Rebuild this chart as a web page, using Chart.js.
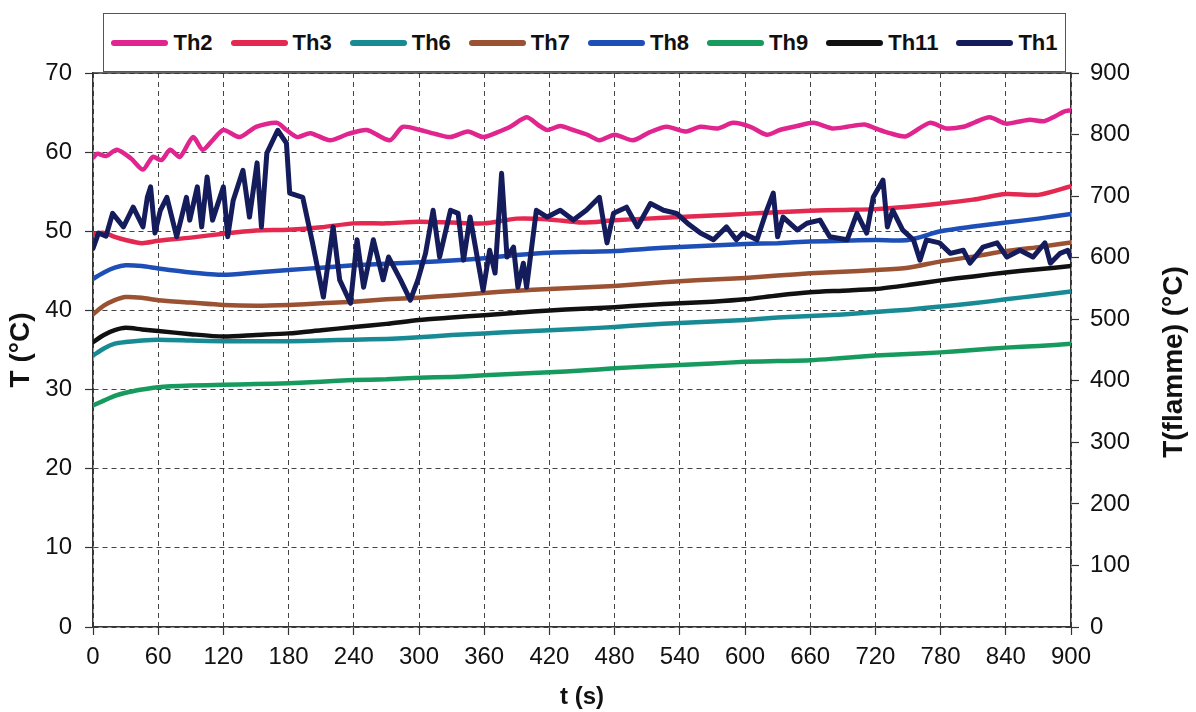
<!DOCTYPE html>
<html>
<head>
<meta charset="utf-8">
<script src="https://cdn.jsdelivr.net/npm/chart.js@4.4.1/dist/chart.umd.min.js"></script>
<style>
  html, body { margin: 0; padding: 0; background: #ffffff; }
  #wrap { position: relative; width: 1196px; height: 712px; }
  canvas { position: absolute; left: 0; top: 0; }
  #legend {
    position: absolute; left: 103px; top: 13px; width: 961px; height: 57px;
    border: 1px solid #555; background: #fff;
    display: flex; align-items: center; justify-content: center; gap: 18px;
    font-family: "Liberation Sans", Arial, sans-serif; font-weight: bold; font-size: 22px; color: #111;
    z-index: 2;
  }
  .item { display: flex; align-items: center; }
  .swatch { width: 57px; height: 6px; border-radius: 3px; margin-right: 5px; }
</style>
</head>
<body>
<div id="wrap">
  <canvas id="c" width="1196" height="712"></canvas>
  <div id="legend"></div>
</div>
<script>
// ---- Data ----
const seriesNames = ["Th2", "Th3", "Th6", "Th7", "Th8", "Th9", "Th11", "Th1"];
const seriesColors = ["#e0258f", "#e3294f", "#178a94", "#9a5233", "#1d4fb6", "#169a5e", "#111111", "#141c5c"];

const tTh2 = [0,4,12,22,35,46,55,63,71,80,92,101,110,120,135,150,169,178,188,200,218,235,252,273,285,301,315,329,345,359,372,384,399,410,418,430,442,455,466,480,497,512,528,545,559,575,589,605,620,632,648,663,680,694,710,720,733,748,770,785,801,812,825,840,850,862,875,885,893,900];
const th2 = [59.3,59.8,59.5,60.3,59.2,57.8,59.4,59.0,60.3,59.4,61.9,60.3,61.5,62.8,61.9,63.2,63.7,62.8,61.9,62.4,61.5,62.3,62.8,61.5,63.2,62.8,62.3,61.9,62.6,61.9,62.5,63.2,64.4,63.4,62.8,63.3,62.8,62.2,61.5,62.2,61.5,62.5,63.2,62.6,63.2,63.0,63.7,63.2,62.2,62.8,63.3,63.7,63.0,63.2,63.5,63.0,62.4,62.0,63.7,63.0,63.2,63.8,64.4,63.6,63.8,64.1,63.9,64.5,65.1,65.3];

const tSmooth = [0,10,20,30,45,60,90,120,150,180,210,240,270,300,330,360,390,420,450,480,510,540,570,600,630,660,690,720,750,780,810,840,870,900];
const th3  = [49.6,49.8,49.3,48.9,48.5,48.8,49.2,49.7,50.1,50.2,50.5,51.0,51.0,51.2,51.1,51.0,51.6,51.5,51.1,51.4,51.6,51.8,52.0,52.2,52.4,52.6,52.7,52.8,53.1,53.5,54.0,54.7,54.6,55.7];
const th6  = [34.3,35.2,35.8,36.0,36.2,36.3,36.2,36.1,36.1,36.1,36.2,36.3,36.4,36.6,36.9,37.1,37.3,37.5,37.7,37.9,38.2,38.4,38.6,38.8,39.1,39.3,39.5,39.8,40.1,40.5,40.9,41.4,41.9,42.4];
const th7  = [39.5,40.6,41.3,41.7,41.6,41.3,41.0,40.7,40.6,40.7,40.9,41.1,41.4,41.6,41.9,42.2,42.5,42.7,42.9,43.1,43.4,43.7,43.9,44.1,44.4,44.7,44.9,45.1,45.4,46.2,46.8,47.5,48.0,48.6];
const th8  = [44.0,44.8,45.4,45.7,45.6,45.3,44.8,44.5,44.8,45.1,45.4,45.7,45.9,46.1,46.3,46.6,47.0,47.3,47.4,47.5,47.8,48.0,48.2,48.4,48.5,48.7,48.8,48.9,48.9,50.0,50.6,51.1,51.6,52.2];
const th9  = [28.0,28.6,29.2,29.6,30.0,30.3,30.5,30.6,30.7,30.8,31.0,31.2,31.3,31.5,31.6,31.8,32.0,32.2,32.4,32.7,32.9,33.1,33.3,33.5,33.6,33.7,34.0,34.3,34.5,34.7,35.0,35.3,35.5,35.8];
const th11 = [36.0,36.9,37.5,37.8,37.6,37.4,37.0,36.7,36.9,37.1,37.5,37.9,38.3,38.8,39.1,39.4,39.7,40.0,40.2,40.4,40.7,40.9,41.1,41.4,41.9,42.3,42.5,42.7,43.2,43.8,44.3,44.8,45.2,45.6];

const tTh1 = [0,5,12,18,28,37,46,50,53,57,62,68,77,86,89,96,100,105,110,120,124,129,138,144,151,155,160,170,178,181,193,202,212,221,227,237,243,249,258,267,272,283,292,299,306,313,319,329,336,341,347,359,365,370,376,381,387,391,396,399,408,418,430,442,454,466,473,479,491,501,513,525,537,547,559,571,583,592,598,611,620,626,630,635,648,657,669,678,694,703,712,718,727,731,736,745,755,761,767,779,789,801,807,819,832,841,853,865,876,881,890,897,900];
const th1 = [615,640,635,672,650,682,650,698,715,640,677,698,634,698,661,715,650,731,661,715,634,693,742,666,754,650,770,807,786,705,698,624,536,650,564,526,629,552,629,564,601,564,531,564,607,677,601,677,672,596,666,547,612,575,737,601,617,552,591,552,677,666,677,661,677,698,624,672,682,650,688,677,672,656,640,629,650,629,640,629,677,705,634,666,645,656,661,634,629,672,640,698,726,650,677,645,629,596,629,624,607,612,591,617,624,601,612,601,624,591,607,612,600];

const xTicks = [0,60,120,180,240,300,360,420,480,540,600,660,720,780,840,900];
const leftTitle = "T (°C)";
const rightTitle = "T(flamme) (°C)";
const xTitle = "t (s)";

// ---- Build datasets ----
function pts(t, v) { return t.map((x, i) => ({ x: x, y: v[i] })); }
const seriesData = {
  Th2: pts(tTh2, th2), Th3: pts(tSmooth, th3), Th6: pts(tSmooth, th6), Th7: pts(tSmooth, th7),
  Th8: pts(tSmooth, th8), Th9: pts(tSmooth, th9), Th11: pts(tSmooth, th11), Th1: pts(tTh1, th1)
};
const datasets = seriesNames.map((n, i) => ({
  label: n,
  data: seriesData[n],
  borderColor: seriesColors[i],
  backgroundColor: seriesColors[i],
  borderWidth: n === "Th1" ? 5 : 4.5,
  borderJoinStyle: 'round',
  borderCapStyle: 'round',
  pointRadius: 0,
  tension: n === "Th1" ? 0 : 0.25,
  yAxisID: n === "Th1" ? "y2" : "y",
  order: n === "Th1" ? 0 : 1
}));

// HTML legend
const leg = document.getElementById('legend');
seriesNames.forEach((n, i) => {
  const it = document.createElement('div'); it.className = 'item';
  const sw = document.createElement('div'); sw.className = 'swatch'; sw.style.background = seriesColors[i];
  const tx = document.createElement('span'); tx.textContent = n;
  it.appendChild(sw); it.appendChild(tx); leg.appendChild(it);
});

const FONT = "'Liberation Sans', Arial, sans-serif";
const gridDash = [5, 4];

const framePlugin = {
  id: 'frame',
  afterDraw(chart) {
    const ctx = chart.ctx, a = chart.chartArea;
    ctx.save();
    ctx.strokeStyle = '#333'; ctx.lineWidth = 1.5;
    ctx.beginPath(); ctx.moveTo(a.left, a.top); ctx.lineTo(a.right, a.top); ctx.stroke();
    ctx.fillStyle = '#111';
    ctx.font = 'bold 28px ' + FONT;
    ctx.textAlign = 'center'; ctx.textBaseline = 'middle';
    ctx.translate(1174, 362); ctx.rotate(-Math.PI / 2);
    ctx.fillText(rightTitle, 0, 0);
    ctx.restore();
  }
};

new Chart(document.getElementById('c'), {
  type: 'line',
  data: { datasets },
  plugins: [framePlugin],
  options: {
    responsive: false, animation: false, devicePixelRatio: 1,
    layout: { padding: { top: 73, left: 0, right: 0, bottom: 0 } },
    plugins: { legend: { display: false }, tooltip: { enabled: false } },
    scales: {
      x: {
        type: 'linear', min: 0, max: 900,
        afterBuildTicks: (s) => { s.ticks = xTicks.map(v => ({ value: v })); },
        afterFit: (s) => { s.height = 85; },
        ticks: { color: '#111', font: { family: FONT, size: 24 }, padding: 8, maxRotation: 0, autoSkip: false },
        grid: { color: '#444', lineWidth: 1, tickLength: 8, tickColor: '#333', tickWidth: 1.2 },
        border: { color: '#333', width: 1.5, dash: gridDash },
        title: { display: true, text: xTitle, color: '#111', font: { family: FONT, size: 24, weight: 'bold' }, padding: { top: 0, bottom: 0 } }
      },
      y: {
        position: 'left', min: 0, max: 70,
        ticks: { stepSize: 10, color: '#111', font: { family: FONT, size: 24 }, padding: 13 },
        afterFit: (s) => { s.width = 93; },
        grid: { color: '#444', lineWidth: 1, tickLength: 8, tickColor: '#333', tickWidth: 1.2 },
        border: { color: '#333', width: 1.5, dash: gridDash },
        title: { display: true, text: leftTitle, color: '#111', font: { family: FONT, size: 28, weight: 'bold' }, padding: { top: 4, bottom: 4 } }
      },
      y2: {
        position: 'right', min: 0, max: 900,
        ticks: { stepSize: 100, color: '#111', font: { family: FONT, size: 24 }, padding: 11 },
        afterFit: (s) => { s.width = 125; },
        grid: { drawOnChartArea: false, tickLength: 8, tickColor: '#333', tickWidth: 1.2 },
        border: { color: '#333', width: 1.5 }
      }
    }
  }
});
</script>
</body>
</html>
